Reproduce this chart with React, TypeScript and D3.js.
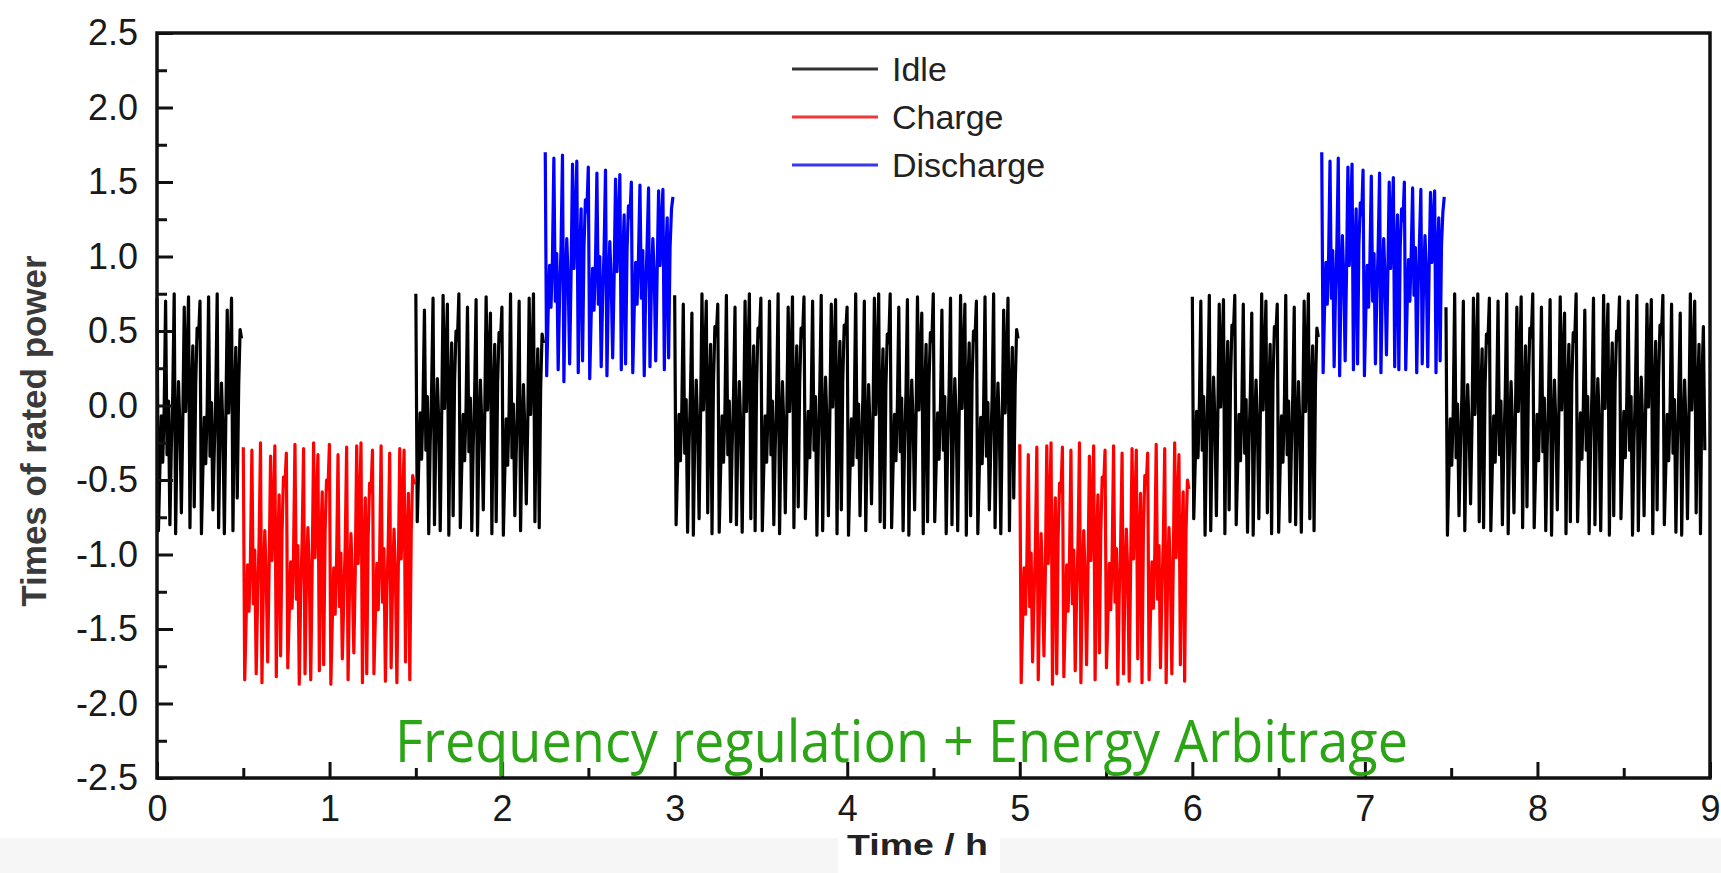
import React, { useEffect, useRef } from 'react';
import * as d3 from 'd3';

// Power profile, in percent of rated power.
// Each segment is sampled evenly between its start and end time.
const idleA = [
  72, -84, -43, -7, -38, -2, 70, -33, 3, -80, -28, 8, 75, -86, -20, 16, -15, -72, -10, 66, -4, 30, 73, -82, 6, 40, -68, 14, 52, 46,
  70, -86, -44, -8, -39, -3, 73, -34, 2, -70, -29, 7, 75, -82, -21, 15, -16, -86, -11, 64, -5, 29, 72, -84, 5, 39, -62, 13, 51, 45,
];
const chargeA = [
  -28, -184, -143, -107, -138, -102, -30, -133, -97, -180, -128, -92, -25, -186, -120, -84, -115, -172, -110, -34, -104, -70, -27, -182, -94, -60, -168, -86, -48, -54,
  -32, -176, -140, -105, -136, -100, -26, -130, -94, -187, -126, -90, -29, -180, -118, -82, -112, -184, -108, -25, -102, -68, -33, -178, -92, -58, -174, -84, -50, -56,
  -26, -187, -145, -109, -140, -104, -33, -135, -99, -170, -130, -94, -28, -184, -122, -86, -117, -166, -112, -27, -106, -72, -25, -186, -96, -62, -180, -88, -52, -58,
  -30, -180, -142, -106, -137, -101, -27, -132, -96, -185, -127, -91, -32, -176, -119, -83, -114, -186, -109, -29, -103, -69, -30, -172, -93, -59, -184, -85, -47, -53,
];
const idleB = [
  75, -78, -40, -5, -36, 0, 64, -30, 6, -86, -26, 10, 72, -80, -18, 18, -12, -84, -8, 74, -2, 32, 68, -87, 8, 42, -74, 16, 50, 44,
  75, -82, -41, -6, -37, -1, 66, -31, 5, -84, -27, 9, 71, -87, -19, 17, -13, -70, -9, 73, -3, 31, 62, -86, 7, 41, -78, 15, 49, 43,
  66, -87, -45, -9, -40, -4, 75, -35, 1, -74, -30, 6, 70, -84, -22, 14, -17, -66, -12, 72, -6, 28, 75, -78, 4, 38, -82, 12, 48, 42,
];
const dischargeA = [
  170, 20, 62, 94, 66, 98, 166, 70, 102, 24, 74, 106, 168, 16, 80, 112, 84, 28, 88, 162, 92, 124, 164, 22, 100, 132, 30, 106, 138, 130,
  160, 18, 60, 92, 64, 96, 156, 68, 100, 26, 72, 104, 158, 20, 78, 110, 82, 32, 86, 152, 90, 122, 155, 24, 98, 128, 28, 104, 134, 126,
  150, 22, 64, 96, 68, 100, 148, 72, 104, 20, 76, 108, 146, 26, 82, 112, 86, 30, 90, 144, 94, 122, 145, 24, 100, 126, 32, 106, 132, 140,
];
const idleC = [
  74, -80, -42, -6, -37, -1, 68, -32, 4, -85, -27, 9, 62, -87, -19, 17, -14, -76, -9, 75, -3, 31, 70, -72, 7, 41, -86, 15, 53, 47,
  68, -85, -43, -7, -38, -2, 74, -33, 3, -78, -28, 8, 66, -80, -20, 16, -15, -85, -10, 70, -4, 30, 75, -76, 6, 40, -84, 14, 52, 46,
  72, -84, -43, -7, -38, -2, 70, -33, 3, -80, -28, 8, 75, -86, -20, 16, -15, -72, -10, 66, -4, 30, 73, -82, 6, 40, -68, 14, 52, 46,
  73, -76, -40, -4, -35, 1, 70, -30, 6, -87, -25, 11, 74, -84, -17, 19, -12, -74, -7, 68, -1, 33, 71, -86, 9, 43, -70, 17, 54, 48,
  66, -87, -45, -9, -40, -4, 75, -35, 1, -74, -30, 6, 70, -84, -22, 14, -17, -66, -12, 72, -6, 28, 75, -78, 4, 38, -82, 12, 48, 42,
  75, -82, -41, -6, -37, -1, 66, -31, 5, -84, -27, 9, 71, -87, -19, 17, -13, -70, -9, 73, -3, 31, 62, -86, 7, 41, -78, 15, 49, 43,
  75, -78, -40, -5, -36, 0, 64, -30, 6, -86, -26, 10, 72, -80, -18, 18, -12, -84, -8, 74, -2, 32, 68, -87, 8, 42, -74, 16, 50, 44,
  70, -86, -44, -8, -39, -3, 73, -34, 2, -70, -29, 7, 75, -82, -21, 15, -16, -86, -11, 64, -5, 29, 72, -84, 5, 39, -62, 13, 51, 45,
];
const chargeB = [
  -26, -186, -145, -109, -140, -104, -33, -135, -99, -172, -130, -94, -28, -184, -122, -86, -117, -168, -112, -27, -106, -72, -25, -187, -96, -62, -180, -88, -52, -58,
  -28, -182, -143, -107, -138, -102, -30, -133, -97, -178, -128, -92, -25, -186, -120, -84, -115, -174, -110, -34, -104, -70, -27, -184, -94, -60, -166, -86, -48, -54,
  -30, -176, -142, -106, -137, -101, -27, -132, -96, -187, -127, -91, -32, -180, -119, -83, -114, -185, -109, -29, -103, -69, -30, -170, -93, -59, -186, -85, -47, -53,
  -32, -184, -140, -105, -136, -100, -26, -130, -94, -176, -126, -90, -29, -186, -118, -82, -112, -180, -108, -25, -102, -68, -33, -174, -92, -58, -185, -84, -50, -56,
];
const idleD = [
  73, -76, -40, -4, -35, 1, 70, -30, 6, -87, -25, 11, 74, -84, -17, 19, -12, -74, -7, 68, -1, 33, 71, -86, 9, 43, -70, 17, 54, 48,
  74, -80, -42, -6, -37, -1, 68, -32, 4, -85, -27, 9, 62, -87, -19, 17, -14, -76, -9, 75, -3, 31, 70, -72, 7, 41, -86, 15, 53, 47,
  68, -85, -43, -7, -38, -2, 74, -33, 3, -78, -28, 8, 66, -80, -20, 16, -15, -85, -10, 70, -4, 30, 75, -76, 6, 40, -84, 14, 52, 46,
];
const dischargeB = [
  170, 22, 64, 96, 68, 100, 164, 72, 104, 26, 76, 108, 166, 20, 82, 114, 86, 30, 90, 160, 94, 126, 162, 24, 102, 132, 28, 108, 136, 128,
  158, 20, 62, 94, 66, 98, 154, 70, 102, 28, 74, 106, 156, 22, 80, 112, 84, 34, 88, 150, 92, 122, 153, 26, 100, 128, 24, 106, 132, 124,
  150, 24, 66, 98, 70, 102, 146, 74, 106, 22, 78, 110, 145, 28, 84, 114, 88, 26, 92, 143, 96, 122, 144, 22, 102, 126, 30, 108, 130, 140,
];
const idleE = [
  66, -87, -45, -9, -40, -4, 75, -35, 1, -74, -30, 6, 70, -84, -22, 14, -17, -66, -12, 72, -6, 28, 75, -78, 4, 38, -82, 12, 48, 42,
  72, -84, -43, -7, -38, -2, 70, -33, 3, -80, -28, 8, 75, -86, -20, 16, -15, -72, -10, 66, -4, 30, 73, -82, 6, 40, -68, 14, 52, 46,
  75, -82, -41, -6, -37, -1, 66, -31, 5, -84, -27, 9, 71, -87, -19, 17, -13, -70, -9, 73, -3, 31, 62, -86, 7, 41, -78, 15, 49, 43,
  75, -78, -40, -5, -36, 0, 64, -30, 6, -86, -26, 10, 72, -80, -18, 18, -12, -84, -8, 74, -2, 32, 68, -87, 8, 42, -74, 16, 50, 44,
  73, -76, -40, -4, -35, 1, 70, -30, 6, -87, -25, 11, 74, -84, -17, 19, -12, -74, -7, 68, -1, 33, 71, -86, 9, 43, -70, 17, 54, 48,
  74, -80, -42, -6, -37, -1, 68, -32, 4, -85, -27, 9, 62, -87, -19, 17, -14, -76, -9, 75, -3, 31, 70, -72, 7, 41, -86, 15, 53, -30,
];

const segStart = [0, 0.5, 1.5, 2.25, 3.0, 5.0, 6.0, 6.75, 7.47];
const segEnd = [0.49, 1.49, 2.24, 2.99, 4.99, 5.98, 6.73, 7.46, 8.97];
const segMode = ['Idle', 'Charge', 'Idle', 'Discharge', 'Idle', 'Charge', 'Idle', 'Discharge', 'Idle'];
const segValues = [idleA, chargeA, idleB, dischargeA, idleC, chargeB, idleD, dischargeB, idleE];

const legendLabels = ['Idle', 'Charge', 'Discharge'];
const xTicks = [0, 1, 2, 3, 4, 5, 6, 7, 8, 9];
const yTicks = [-2.5, -2.0, -1.5, -1.0, -0.5, 0.0, 0.5, 1.0, 1.5, 2.0, 2.5];

const modeColor = { Idle: '#000000', Charge: '#ff0000', Discharge: '#0000ff' };
const legendColor = { Idle: '#333333', Charge: '#ee3838', Discharge: '#3838ee' };

export default function App() {
  const svgRef = useRef(null);

  useEffect(() => {
    const width = 1721;
    const height = 873;
    const svg = d3.select(svgRef.current).attr('width', width).attr('height', height);
    svg.selectAll('*').remove();

    const x = d3.scaleLinear().domain([0, 9]).range([157, 1710]);
    const y = d3.scaleLinear().domain([-2.5, 2.5]).range([778, 33]);
    const font = '"Liberation Sans", Arial, Helvetica, sans-serif';

    // page background (the pasted figure has a faint grey strip at the bottom)
    svg.append('rect').attr('width', width).attr('height', height).attr('fill', '#ffffff');
    svg.append('rect').attr('x', 0).attr('y', 838).attr('width', width).attr('height', height - 838).attr('fill', '#f6f6f6');
    svg.append('rect').attr('x', 838).attr('y', 828).attr('width', 162).attr('height', height - 828).attr('fill', '#ffffff');

    // data: percent of rated power -> times of rated power
    const line = d3.line<[number, number]>().x(d => x(d[0])).y(d => y(d[1] / 100));
    segValues.forEach((vals, s) => {
      const t0 = segStart[s];
      const dt = (segEnd[s] - segStart[s]) / (vals.length - 1);
      const pts = vals.map((v, i) => [t0 + i * dt, v] as [number, number]);
      svg.append('path')
        .attr('d', line(pts))
        .attr('fill', 'none')
        .attr('stroke', modeColor[segMode[s]])
        .attr('stroke-width', 3.2)
        .attr('stroke-linejoin', 'round');
    });

    // axes, ticks pointing inward
    const gx = svg.append('g').attr('transform', `translate(0,${y(-2.5)})`);
    gx.call(d3.axisBottom(x).tickValues(xTicks).tickSize(-16).tickPadding(17).tickFormat(d => String(d)));
    gx.append('g').call(d3.axisBottom(x).tickValues(d3.range(0.5, 9, 1)).tickSize(-10).tickFormat(() => ''));

    const gy = svg.append('g').attr('transform', `translate(${x(0)},0)`);
    gy.call(d3.axisLeft(y).tickValues(yTicks).tickSize(-16).tickPadding(19).tickFormat(d => (+d).toFixed(1)));
    gy.append('g').call(d3.axisLeft(y).tickValues(d3.range(-2.25, 2.5, 0.5)).tickSize(-10).tickFormat(() => ''));

    svg.selectAll('.domain').remove();
    svg.selectAll('.tick line').attr('stroke', '#111').attr('stroke-width', 3);
    svg.selectAll('.tick text')
      .attr('font-family', font)
      .attr('font-size', 36)
      .attr('fill', '#1a1a1a');

    svg.append('rect')
      .attr('x', x(0)).attr('y', y(2.5))
      .attr('width', x(9) - x(0)).attr('height', y(-2.5) - y(2.5))
      .attr('fill', 'none').attr('stroke', '#111').attr('stroke-width', 3.5);

    // legend
    legendLabels.forEach((lab, i) => {
      const ly = 69 + i * 48;
      svg.append('line')
        .attr('x1', 792).attr('x2', 878).attr('y1', ly).attr('y2', ly)
        .attr('stroke', legendColor[lab]).attr('stroke-width', 3);
      svg.append('text')
        .attr('x', 892).attr('y', ly)
        .attr('dominant-baseline', 'central')
        .attr('font-family', font).attr('font-size', 34).attr('fill', '#222')
        .text(lab);
    });

    // axis titles
    svg.append('text')
      .attr('transform', 'translate(33,431) rotate(-90)')
      .attr('text-anchor', 'middle').attr('dominant-baseline', 'central')
      .attr('font-family', font).attr('font-size', 35).attr('font-weight', 'bold').attr('fill', '#3a3a3a')
      .text('Times of rated power');

    svg.append('text')
      .attr('x', 847).attr('y', 855)
      .attr('textLength', 141).attr('lengthAdjust', 'spacingAndGlyphs')
      .attr('font-family', font).attr('font-size', 30).attr('font-weight', 'bold').attr('fill', '#222')
      .text('Time / h');

    svg.append('text')
      .attr('x', 395).attr('y', 762)
      .attr('textLength', 1013).attr('lengthAdjust', 'spacingAndGlyphs')
      .attr('font-family', '"Open Sans", "Noto Sans", sans-serif').attr('font-size', 59).attr('fill', '#2ba515')
      .text('Frequency regulation + Energy Arbitrage');
  }, []);

  return <svg ref={svgRef} style={{ position: 'absolute', left: 0, top: 0, display: 'block' }} />;
}
